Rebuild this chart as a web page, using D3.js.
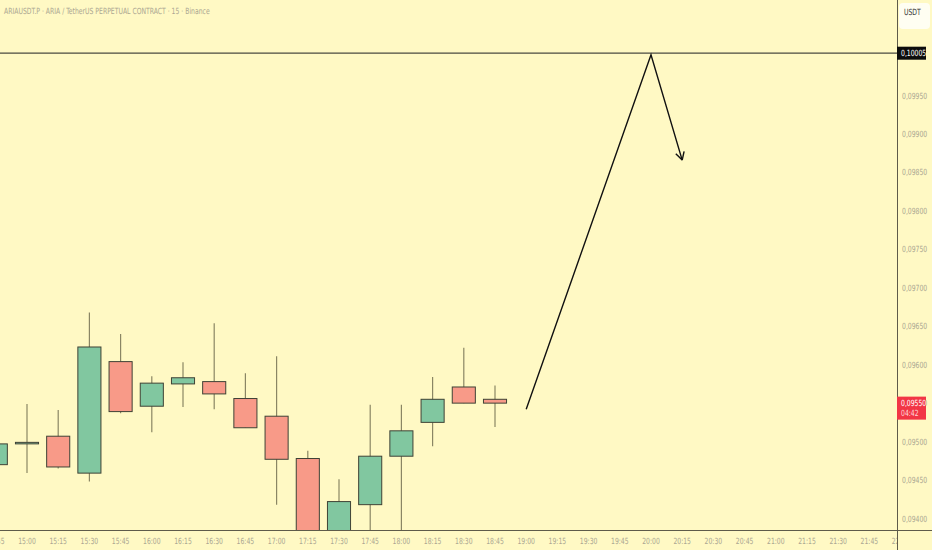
<!DOCTYPE html>
<html>
<head>
<meta charset="utf-8">
<script src="https://cdn.jsdelivr.net/npm/d3@7"></script>
<style>
  html, body { margin: 0; padding: 0; background: #fff9c4; }
  svg { display: block; }
  text { font-family: "Liberation Sans Narrow", "DejaVu Sans Condensed", "Liberation Sans", sans-serif; font-size: 8.5px; }
</style>
</head>
<body>
<div id="chart"></div>
<script>
// candles, 15 minute bars
var times  = ["14:45","15:00","15:15","15:30","15:45","16:00","16:15","16:30","16:45","17:00","17:15","17:30","17:45","18:00","18:15","18:30","18:45"];
var opens  = [0.09470,0.09499,0.09507,0.09459,0.09604,0.09546,0.09575,0.09578,0.09556,0.09533,0.09478,0.09378,0.09418,0.09481,0.09525,0.09571,0.09555];
var highs  = [0.09502,0.09549,0.09541,0.09668,0.09640,0.09585,0.09603,0.09654,0.09589,0.09611,0.09488,0.09451,0.09548,0.09548,0.09584,0.09622,0.09573];
var lows   = [0.09462,0.09459,0.09465,0.09448,0.09537,0.09512,0.09545,0.09542,0.09518,0.09418,0.09360,0.09360,0.09370,0.09380,0.09494,0.09550,0.09519];
var closes = [0.09497,0.09499,0.09467,0.09623,0.09539,0.09576,0.09583,0.09562,0.09518,0.09477,0.09375,0.09422,0.09481,0.09514,0.09555,0.09550,0.09550];

// drawn projection (up then arrow down)
var drawTimes  = ["19:00","20:00","20:15"];
var drawPrices = [0.09542,0.10003,0.09866];

var levelPrice = 0.10005;
var lastPrice = 0.09550, countdown = "04:42";
var priceTicks = d3.range(0, 12).map(function(i) { return +(0.09400 + i * 0.0005).toFixed(5); });
var title = "ARIAUSDT.P \u00b7 ARIA / TetherUS PERPETUAL CONTRACT \u00b7 15 \u00b7 Binance";

var W = 932, H = 550, plotR = 897, plotB = 530;
function t(s) { var p = s.split(":"); return new Date(Date.UTC(2024, 0, 1, +p[0], +p[1])); }
// narrow the text like the reference
function at(px, py) { return "translate(" + px + "," + py + ") scale(0.8,1)"; }

var x = d3.scaleUtc()
    .domain([t("15:00"), t("22:00")])
    .range([27, 27 + 28 * 31.2]);
var y = d3.scaleLinear()
    .domain([0.094, 0.0995])
    .range([518.5, 95.5]);
var fmt = function(v) { return d3.format(".5f")(v).replace(".", ","); };
var step = x(t("15:15")) - x(t("15:00"));
var bw = step * 0.74;

var svg = d3.select("#chart").append("svg")
    .attr("width", W).attr("height", H);

svg.append("rect").attr("width", W).attr("height", H).attr("fill", "#fff9c4");

svg.append("clipPath").attr("id", "plot")
  .append("rect").attr("x", 0).attr("y", 0).attr("width", plotR).attr("height", plotB);

var g = svg.append("g").attr("clip-path", "url(#plot)");

var candles = times.map(function(d, i) {
    return { t: t(d), o: opens[i], h: highs[i], l: lows[i], c: closes[i] };
});

// wicks
g.selectAll(null).data(candles).enter().append("line")
    .attr("x1", function(d) { return x(d.t); })
    .attr("x2", function(d) { return x(d.t); })
    .attr("y1", function(d) { return y(d.h); })
    .attr("y2", function(d) { return y(d.l); })
    .attr("stroke", "#8a8664").attr("stroke-width", 1.2);

// bodies
g.selectAll(null).data(candles).enter().append("rect")
    .attr("x", function(d) { return x(d.t) - bw / 2; })
    .attr("width", bw)
    .attr("y", function(d) { return y(Math.max(d.o, d.c)); })
    .attr("height", function(d) { return Math.max(1.5, Math.abs(y(d.o) - y(d.c))); })
    .attr("fill", function(d) { return d.c >= d.o ? "#81c7a0" : "#f89a88"; })
    .attr("stroke", "#3f4236").attr("stroke-width", 1);

// horizontal level
g.append("line")
    .attr("x1", 0).attr("x2", plotR)
    .attr("y1", y(levelPrice)).attr("y2", y(levelPrice))
    .attr("stroke", "#4a4a40").attr("stroke-width", 1.2);

// drawn path with arrow
var pts = drawTimes.map(function(d, i) { return [x(t(d)), y(drawPrices[i])]; });
g.append("path")
    .attr("d", d3.line()(pts))
    .attr("fill", "none").attr("stroke", "#111").attr("stroke-width", 1.4);
var a = pts[pts.length - 1], b = pts[pts.length - 2];
var ang = Math.atan2(a[1] - b[1], a[0] - b[0]);
[-0.5, 0.5].forEach(function(da) {
    g.append("line")
        .attr("x1", a[0]).attr("y1", a[1])
        .attr("x2", a[0] - 9 * Math.cos(ang + da))
        .attr("y2", a[1] - 9 * Math.sin(ang + da))
        .attr("stroke", "#111").attr("stroke-width", 1.4);
});

// title
svg.append("text")
    .attr("transform", at(4, 14))
    .attr("fill", "#aba792")
    .text(title);

// time axis
var xTicks = d3.utcMinute.every(15).range(t("14:45"), t("22:01"));
svg.append("clipPath").attr("id", "xclip")
  .append("rect").attr("x", 0).attr("y", plotB).attr("width", plotR).attr("height", H - plotB);
var xAxisG = svg.append("g").attr("clip-path", "url(#xclip)");
xAxisG.selectAll(null).data(xTicks).enter().append("text")
    .attr("transform", function(d) { return at(x(d), 544); })
    .attr("text-anchor", "middle")
    .attr("fill", "#aba792")
    .text(function(d) { return d3.utcFormat("%H:%M")(d); });

// price axis labels
svg.selectAll(null).data(priceTicks).enter().append("text")
    .attr("transform", function(d) { return at(902, y(d) + 3); })
    .attr("fill", "#aba792")
    .text(fmt);

// axis lines
svg.append("line").attr("x1", plotR + 0.5).attr("x2", plotR + 0.5).attr("y1", 0).attr("y2", H)
    .attr("stroke", "#5e5b4a").attr("stroke-width", 1);
svg.append("line").attr("x1", 0).attr("x2", W).attr("y1", plotB + 0.5).attr("y2", plotB + 0.5)
    .attr("stroke", "#5e5b4a").attr("stroke-width", 1);

// currency box
svg.append("rect").attr("x", 899).attr("y", 3).attr("width", 31).attr("height", 26).attr("rx", 4)
    .attr("fill", "#fffef2");
svg.append("text").attr("transform", at(904, 15)).attr("fill", "#333")
    .text("USDT");

// level label
svg.append("rect").attr("x", plotR).attr("y", y(levelPrice) - 6.5).attr("width", 29).attr("height", 13)
    .attr("fill", "#0c0c0c");
svg.append("text").attr("transform", at(901, y(levelPrice) + 3)).attr("fill", "#fff")
    .text(fmt(levelPrice));

// last price label
svg.append("rect").attr("x", plotR).attr("y", y(lastPrice) - 6.5).attr("width", 29).attr("height", 23)
    .attr("fill", "#f23645");
svg.append("text").attr("transform", at(901, y(lastPrice) + 3)).attr("fill", "#fff")
    .text(fmt(lastPrice));
svg.append("text").attr("transform", at(901, y(lastPrice) + 13)).attr("fill", "#ffd6d9")
    .text(countdown);
</script>
</body>
</html>
